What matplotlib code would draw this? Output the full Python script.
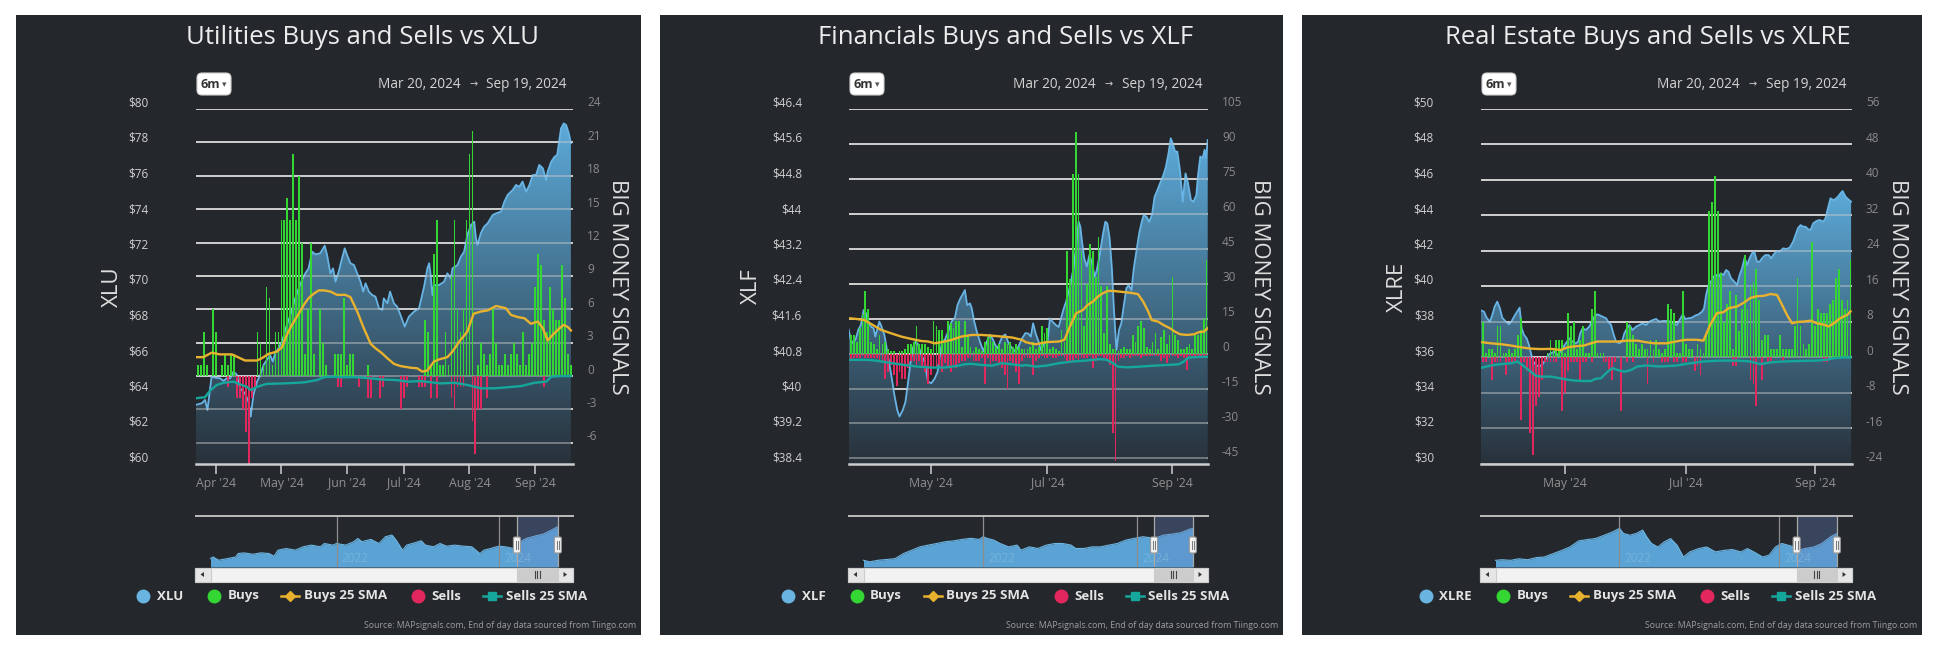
import numpy as np
import matplotlib
matplotlib.use("Agg")
import matplotlib.pyplot as plt
from matplotlib.patches import Rectangle, FancyBboxPatch, Polygon
from matplotlib.lines import Line2D
from matplotlib.colors import LinearSegmentedColormap
from matplotlib.transforms import Affine2D, blended_transform_factory, offset_copy

# ============================ DATA ============================
DATE_FROM = "Mar 20, 2024"
DATE_TO = "Sep 19, 2024"
SOURCE = "Source: MAPsignals.com, End of day data sourced from Tiingo.com"
RIGHT_TITLE = "BIG MONEY SIGNALS"
LEGEND_LABELS = ["Buys", "Buys 25 SMA", "Sells", "Sells 25 SMA"]

# trading-day number: 0 = Mar 20 2024 ... 126 = Sep 19 2024
TRADING_DAYS = list(range(127))
XT_MONTHLY = [7, 29, 51, 70, 92, 114]
XTL_MONTHLY = ["Apr '24", "May '24", "Jun '24", "Jul '24", "Aug '24", "Sep '24"]
XT_BIMONTHLY = [29, 70, 114]
XTL_BIMONTHLY = ["May '24", "Jul '24", "Sep '24"]

# ---- Utilities / XLU ----
XLU_TICKS = [80, 78, 76, 74, 72, 70, 68, 66, 64, 62, 60]
XLU_TICK_LABELS = ["$80", "$78", "$76", "$74", "$72", "$70", "$68", "$66", "$64", "$62", "$60"]
XLU_SIG_TICKS = [24, 21, 18, 15, 12, 9, 6, 3, 0, -3, -6]
XLU_SIG_LABELS = ["24", "21", "18", "15", "12", "9", "6", "3", "0", "-3", "-6"]
XLU_PRICE = [(0, 63.32), (2.3, 63.42), (3.4, 63.61), (4.2, 63.04), (5.1, 64.26), (5.6, 64.92), (6.8, 64.86),
             (8.4, 64.83), (9.6, 64.68), (10.7, 64.83), (11.8, 64.83), (12.9, 65.20), (14.0, 65.05), (15.2, 64.26),
             (16.8, 63.98), (18.0, 63.51), (18.7, 62.67), (19.6, 63.89), (20.8, 64.64), (21.9, 65.01), (23.0, 65.58),
             (24.1, 65.86), (25.2, 66.14), (26.1, 65.77), (26.9, 66.24), (28.0, 66.52), (29.2, 66.89), (30.8, 67.83),
             (32.0, 68.39), (33.6, 69.33), (34.8, 69.90), (35.9, 70.37), (37.0, 70.74), (38.1, 71.02), (39.3, 71.96),
             (40.4, 71.81), (42.0, 71.87), (43.5, 72.30), (44.3, 71.77), (45.4, 70.74), (46.3, 71.02), (47.1, 70.27),
             (48.2, 70.84), (49.3, 71.59), (50.2, 72.15), (51.0, 71.77), (52.1, 71.31), (53.3, 71.21), (54.4, 70.74),
             (55.5, 70.27), (56.4, 69.71), (57.2, 70.18), (58.3, 69.71), (59.4, 69.52), (60.5, 69.43), (61.7, 68.77),
             (62.8, 68.68), (63.3, 69.33), (64.5, 69.05), (65.4, 69.71), (66.7, 69.05), (67.8, 68.86), (68.9, 68.39),
             (70.3, 67.74), (71.7, 68.30), (73.4, 68.58), (75.1, 68.77), (76.8, 69.99), (77.9, 71.02), (78.5, 71.31),
             (79.0, 70.65), (79.6, 69.52), (80.1, 70.08), (81.8, 70.08), (83.5, 70.27), (84.6, 70.74), (85.8, 70.46),
             (86.3, 71.02), (88.0, 71.21), (89.1, 71.68), (90.2, 71.96), (91.3, 72.90), (92.5, 73.46), (93.6, 73.65),
             (94.2, 72.71), (94.7, 72.34), (95.8, 73.00), (96.9, 73.37), (98.1, 73.56), (99.8, 74.03), (100.9, 74.12),
             (102.6, 74.22), (103.7, 74.78), (104.8, 75.16), (106.5, 75.44), (107.6, 75.72), (108.7, 75.62),
             (109.8, 75.91), (111.0, 75.34), (112.1, 75.72), (113.2, 76.28), (114.3, 76.28), (115.4, 76.85),
             (116.6, 76.66), (117.7, 76.00), (118.2, 76.47), (119.4, 77.03), (120.5, 77.31), (121.4, 77.41),
             (122.2, 78.35), (122.7, 78.91), (123.6, 79.19), (124.4, 79.10), (125.3, 78.63), (126.0, 78.07)]
XLU_BUYS = [1, 1, 1, 4, 1, 0, 6, 4, 0, 1,
            2, 1, 2, 2, 0, 0, 0, 0, 0, 0,
            0, 4, 3, 1, 8, 7, 1, 4, 4, 14,
            14, 16, 14, 20, 14, 18, 12, 2, 6, 12,
            2, 0, 6, 3, 1, 0, 0, 2, 2, 2,
            7, 1, 2, 2, 0, 0, 0, 0, 1, 0,
            0, 0, 0, 0, 0, 0, 0, 0, 0, 0,
            0, 0, 0, 0, 0, 0, 0, 5, 4, 1,
            11, 14, 1, 1, 4, 1, 9, 14, 6, 4,
            6, 14, 20, 22, 0, 1, 3, 2, 1, 2,
            6, 3, 1, 1, 2, 1, 2, 3, 2, 1,
            4, 1, 2, 3, 8, 11, 10, 5, 4, 8,
            6, 5, 5, 10, 7, 2, 1]
XLU_SELLS = [0, 0, 0, 0, 0, 0, 0, 0, 0, 0,
             0, -1, 0, 0, -2, -2, -3, -5, -8, -2,
             -1, 0, 0, 0, 0, 0, 0, 0, 0, 0,
             0, 0, 0, 0, 0, 0, 0, 0, 0, 0,
             0, 0, 0, 0, 0, 0, 0, 0, -1, -1,
             0, 0, 0, 0, 0, -1, 0, 0, -2, -2,
             0, 0, -2, -1, 0, 0, 0, 0, 0, -3,
             -2, -1, 0, 0, 0, -1, -1, -1, 0, -2,
             0, -2, 0, 0, 0, 0, -2, -3, -1, -1,
             -1, 0, 0, -4, -7, -3, -3, 0, -2, 0,
             0, 0, 0, 0, 0, 0, 0, 0, 0, 0,
             0, 0, 0, 0, 0, 0, 0, -1, 0, 0,
             0, 0, 0, 0, 0, 0, 0]
XLU_BUY_SMA = [(0, 1.7), (2.8, 1.7), (5.6, 2.1), (8.4, 1.95), (12.4, 1.95), (15.2, 1.6), (16.8, 1.4), (20.8, 1.4),
               (22.4, 1.6), (24.7, 2.0), (27.5, 2.2), (29.2, 2.6), (30.8, 3.7), (32.5, 4.6), (34.8, 5.6), (36.5, 6.4),
               (38.1, 7.0), (39.8, 7.4), (41.5, 7.7), (43.2, 7.7), (45.4, 7.6), (47.6, 7.3), (50.4, 7.3), (52.1, 7.1),
               (54.4, 5.8), (56.6, 4.3), (58.9, 2.9), (60.5, 2.5), (62.5, 2.1), (64.5, 1.6), (66.7, 1.1), (68.9, 0.9),
               (72.3, 0.75), (74.5, 0.7), (76.2, 0.4), (77.9, 0.5), (80.1, 1.3), (81.8, 1.5), (84.6, 1.7), (86.3, 2.2),
               (88.6, 3.1), (91.3, 4.0), (93.4, 5.6), (95.8, 5.8), (98.1, 5.9), (100.9, 6.3), (102.6, 6.2),
               (104.2, 6.1), (105.9, 5.5), (108.2, 5.3), (110.4, 5.2), (112.6, 4.7), (114.9, 4.9), (116.6, 4.3),
               (118.2, 3.2), (119.9, 3.7), (122.2, 4.3), (123.6, 4.6), (125.0, 4.4), (126.0, 4.1)]
XLU_SELL_SMA = [(0, -2.0), (3.4, -1.9), (5.1, -1.3), (7.3, -0.8), (9.6, -0.6), (12.9, -0.5), (15.2, -0.75),
                (17.4, -0.96), (18.7, -1.26), (20.8, -0.96), (24.1, -0.7), (29.7, -0.66), (36.4, -0.57),
                (40.9, -0.36), (43.2, -0.1), (45.4, -0.05), (48.8, -0.1), (54.4, -0.1), (58.9, -0.2), (62.2, -0.3),
                (67.8, -0.36), (71.2, -0.5), (75.7, -0.45), (82.4, -0.66), (86.9, -0.6), (91.4, -0.8), (95.8, -1.1),
                (100.3, -1.1), (104.8, -1.0), (109.3, -0.9), (113.8, -0.6), (117.7, -0.5), (119.4, -0.06),
                (122.7, 0.0), (126.0, 0.0)]
XLU_NAV = [(2020.45, 50.7), (2020.48, 52.1), (2020.55, 49.3), (2020.66, 50.7), (2020.76, 52.1), (2020.79, 55.0),
           (2020.86, 55.6), (2020.97, 54.4), (2021.07, 55.6), (2021.17, 55.0), (2021.23, 52.7), (2021.28, 57.9),
           (2021.38, 59.3), (2021.49, 57.9), (2021.59, 60.8), (2021.69, 62.2), (2021.80, 60.8), (2021.85, 63.6),
           (2021.95, 62.2), (2022.00, 63.6), (2022.11, 62.2), (2022.21, 65.1), (2022.26, 67.9), (2022.31, 65.1),
           (2022.42, 67.1), (2022.52, 63.6), (2022.60, 69.4), (2022.68, 70.8), (2022.73, 66.5), (2022.81, 57.9),
           (2022.86, 62.2), (2022.93, 63.6), (2023.04, 65.9), (2023.09, 62.2), (2023.19, 60.8), (2023.27, 63.6),
           (2023.35, 61.3), (2023.45, 62.2), (2023.56, 61.3), (2023.66, 60.8), (2023.76, 55.0), (2023.81, 57.9),
           (2023.89, 59.3), (2023.99, 61.3), (2024.07, 60.8), (2024.18, 59.3), (2024.22, 63.6), (2024.33, 67.9),
           (2024.44, 70.0), (2024.54, 71.7), (2024.64, 75.1), (2024.72, 78.0)]

# ---- Financials / XLF ----
XLF_TICKS = [46.4, 45.6, 44.8, 44.0, 43.2, 42.4, 41.6, 40.8, 40.0, 39.2, 38.4]
XLF_TICK_LABELS = ["$46.4", "$45.6", "$44.8", "$44", "$43.2", "$42.4", "$41.6", "$40.8", "$40", "$39.2", "$38.4"]
XLF_SIG_TICKS = [105, 90, 75, 60, 45, 30, 15, 0, -15, -30, -45]
XLF_SIG_LABELS = ["105", "90", "75", "60", "45", "30", "15", "0", "-15", "-30", "-45"]
XLF_PRICE = [(0, 41.46), (0.9, 41.19), (1.8, 41.12), (2.7, 41.23), (3.5, 41.42), (4.4, 41.53), (5.4, 41.87),
             (6.2, 41.80), (6.8, 41.65), (8.0, 41.49), (8.9, 41.46), (9.5, 41.27), (10.3, 41.46), (10.9, 41.61),
             (11.5, 41.53), (12.7, 41.31), (13.9, 40.86), (15.1, 40.41), (16.2, 39.96), (17.2, 39.62), (18.0, 39.47),
             (19.2, 39.62), (20.1, 39.80), (20.9, 40.18), (21.9, 40.70), (22.7, 41.01), (23.6, 41.16), (24.5, 41.10),
             (25.7, 40.86), (26.9, 40.70), (28.0, 40.26), (29.2, 40.22), (30.4, 40.33), (31.4, 40.48), (32.2, 40.86),
             (33.0, 41.16), (33.9, 41.19), (35.1, 41.38), (36.3, 41.61), (37.5, 41.70), (38.4, 41.98), (39.3, 42.12),
             (40.1, 42.21), (41.0, 42.32), (41.8, 41.98), (42.8, 42.02), (43.4, 41.91), (44.3, 41.61), (45.2, 41.38),
             (46.3, 41.16), (47.5, 40.94), (48.7, 41.16), (49.9, 41.31), (50.7, 41.23), (51.7, 41.08), (52.6, 41.01),
             (53.4, 41.16), (54.2, 41.27), (55.2, 41.32), (56.4, 41.12), (57.6, 41.01), (58.7, 40.94), (59.9, 41.05),
             (61.1, 41.23), (62.3, 41.35), (63.3, 41.34), (64.2, 41.27), (65.0, 41.57), (65.9, 41.34), (66.9, 41.16),
             (67.7, 40.97), (68.9, 41.12), (70.1, 41.16), (70.9, 41.68), (71.8, 41.61), (73.0, 41.53), (74.0, 41.49),
             (74.8, 41.68), (75.6, 41.87), (76.6, 42.06), (77.5, 42.28), (78.3, 42.51), (79.2, 42.81), (80.1, 43.30),
             (81.0, 43.86), (81.6, 43.75), (82.2, 43.41), (83.0, 43.03), (83.9, 42.85), (84.8, 43.11), (85.8, 42.92),
             (86.6, 42.62), (87.4, 42.77), (88.4, 43.11), (89.5, 43.56), (90.4, 43.86), (91.1, 43.82), (91.9, 43.49),
             (92.7, 42.81), (93.4, 41.91), (94.3, 40.97), (95.2, 41.42), (96.0, 41.57), (96.9, 41.98), (97.8, 42.36),
             (98.6, 42.43), (99.6, 42.32), (100.4, 42.81), (101.3, 43.18), (102.3, 43.60), (103.2, 43.86),
             (103.9, 44.01), (104.9, 43.97), (105.8, 43.86), (106.8, 44.01), (107.7, 44.42), (108.7, 44.57),
             (109.6, 44.72), (110.8, 44.91), (111.7, 45.10), (112.6, 45.40), (113.4, 45.74), (114.1, 45.63),
             (114.9, 45.44), (115.7, 45.44), (116.7, 44.99), (117.6, 44.31), (118.6, 44.95), (119.5, 44.72),
             (120.5, 44.35), (121.4, 44.31), (122.4, 44.46), (123.0, 44.91), (123.8, 45.33), (124.6, 45.29),
             (125.3, 45.48), (125.8, 45.29), (126.4, 45.70)]
XLF_BUYS = [28, 8, 8, 5, 11, 17, 27, 19, 5, 4,
            2, 8, 4, 5, 2, 1, 1, 0, 1, 1,
            2, 4, 4, 5, 12, 4, 4, 4, 3, 2,
            14, 12, 10, 10, 5, 14, 13, 11, 14, 14,
            3, 14, 8, 3, 1, 3, 2, 1, 5, 7,
            8, 5, 3, 4, 2, 5, 4, 5, 3, 4,
            3, 2, 2, 2, 3, 5, 2, 3, 12, 9,
            11, 2, 3, 2, 1, 10, 5, 44, 32, 77,
            95, 77, 44, 12, 30, 47, 44, 33, 50, 29,
            9, 29, 4, 2, 2, 1, 2, 3, 2, 2,
            8, 5, 12, 14, 11, 3, 2, 5, 9, 2,
            7, 10, 4, 8, 33, 8, 6, 2, 2, 3,
            4, 2, 8, 8, 10, 15, 40]
XLF_SELLS = [-2, -3, -2, -2, -2, -1, -2, -2, -2, -2,
             -2, -3, -3, -11, -8, -5, -9, -14, -8, -11,
             -11, -6, -3, -3, -5, -3, -6, -8, -13, -9,
             -6, -6, -5, -8, -4, -6, -8, -5, -6, -4,
             -3, -3, -2, -2, -3, -3, -3, -2, -13, -2,
             -5, -3, -3, -4, -6, -9, -15, -3, -4, -8,
             -13, -3, -2, -2, -2, -9, -3, -2, -1, -2,
             -2, -1, -2, -2, -1, -1, -2, -3, -3, -3,
             -2, -3, -2, -2, -2, -1, -6, -3, -1, -1,
             -2, -3, -5, -34, -46, -3, -2, -2, -1, -2,
             -1, -1, -1, -2, -1, -1, -1, -1, -1, -1,
             -3, -2, -4, -2, -1, -1, -2, -1, -2, -7,
             -1, -1, -1, -1, -1, -1, -1]
XLF_BUY_SMA = [(0, 15.2), (2.7, 14.9), (5.6, 14.4), (8.6, 12.3), (11.5, 10.2), (15.1, 8.7), (18.6, 7.3),
               (22.1, 6.3), (25.7, 5.4), (28.0, 5.2), (30.4, 4.4), (32.8, 4.9), (36.3, 5.9), (39.8, 7.3),
               (43.4, 8.0), (46.9, 8.0), (50.5, 7.7), (54.0, 7.3), (57.6, 6.9), (61.1, 5.9), (62.4, 4.9),
               (64.2, 4.4), (65.9, 4.0), (69.5, 4.9), (74.2, 5.2), (76.0, 5.9), (77.7, 10.9), (80.1, 17.3),
               (82.5, 18.7), (84.2, 20.9), (86.0, 22.3), (87.8, 24.5), (89.5, 25.9), (91.3, 26.9), (93.1, 26.9),
               (95.4, 26.6), (97.8, 26.3), (100.2, 25.9), (101.9, 25.5), (103.7, 22.3), (105.5, 18.0),
               (106.7, 14.4), (109.0, 13.7), (110.8, 12.3), (113.1, 10.9), (114.9, 9.4), (116.7, 8.3),
               (119.0, 8.0), (121.6, 8.3), (123.3, 9.2), (125.0, 9.4), (126.4, 10.9)]
XLF_SELL_SMA = [(0, -2.7), (3.3, -2.7), (6.8, -2.7), (10.3, -3.1), (15.1, -4.1), (19.8, -4.9), (24.5, -5.6),
                (29.2, -6.0), (33.9, -6.0), (38.7, -5.2), (41.0, -4.6), (43.4, -4.4), (46.9, -4.9), (50.5, -5.2),
                (54.0, -4.1), (57.6, -4.6), (61.1, -5.2), (62.4, -4.9), (65.9, -5.6), (69.5, -5.2), (74.2, -4.1),
                (78.9, -3.4), (83.6, -3.0), (88.4, -2.4), (90.7, -2.6), (93.1, -4.1), (94.8, -5.6), (97.8, -5.9),
                (102.5, -5.6), (107.2, -5.2), (111.9, -4.9), (116.2, -4.6), (118.0, -3.4), (119.7, -1.7),
                (123.3, -1.4), (126.4, -1.4)]
XLF_NAV = [(2020.45, 24.0), (2020.53, 22.9), (2020.64, 24.0), (2020.75, 24.5), (2020.86, 25.1), (2020.97, 28.6),
           (2021.08, 30.9), (2021.18, 33.1), (2021.29, 34.3), (2021.40, 35.4), (2021.51, 36.6), (2021.62, 37.2),
           (2021.73, 38.2), (2021.84, 38.9), (2021.95, 38.2), (2022.00, 40.0), (2022.05, 38.9), (2022.14, 37.7),
           (2022.22, 35.4), (2022.33, 33.1), (2022.44, 34.3), (2022.49, 30.9), (2022.60, 33.1), (2022.71, 32.0),
           (2022.82, 34.3), (2022.93, 35.4), (2023.03, 35.4), (2023.14, 34.3), (2023.20, 32.0), (2023.31, 32.0),
           (2023.41, 33.1), (2023.52, 33.1), (2023.63, 34.3), (2023.74, 35.4), (2023.85, 37.7), (2023.96, 38.9),
           (2024.07, 40.0), (2024.22, 38.9), (2024.34, 41.1), (2024.45, 41.8), (2024.56, 42.7), (2024.67, 45.0),
           (2024.72, 45.7)]

# ---- Real Estate / XLRE ----
XLRE_TICKS = [50, 48, 46, 44, 42, 40, 38, 36, 34, 32, 30]
XLRE_TICK_LABELS = ["$50", "$48", "$46", "$44", "$42", "$40", "$38", "$36", "$34", "$32", "$30"]
XLRE_SIG_TICKS = [56, 48, 40, 32, 24, 16, 8, 0, -8, -16, -24]
XLRE_SIG_LABELS = ["56", "48", "40", "32", "24", "16", "8", "0", "-8", "-16", "-24"]
XLRE_PRICE = [(0, 38.68), (1.4, 38.58), (2.3, 38.24), (3.4, 38.02), (4.2, 38.39), (5.0, 38.86), (5.9, 39.15),
              (6.8, 38.77), (7.6, 38.24), (8.8, 38.02), (9.9, 37.87), (10.7, 38.02), (11.6, 38.30), (12.8, 38.62),
              (13.5, 38.81), (14.2, 37.64), (15.0, 37.27), (15.9, 37.08), (16.7, 36.70), (17.5, 36.14),
              (18.2, 35.77), (19.0, 35.58), (20.1, 35.49), (21.3, 35.62), (22.2, 35.86), (23.2, 36.14),
              (24.1, 36.24), (25.3, 36.33), (26.4, 36.14), (27.3, 36.33), (28.1, 36.52), (29.2, 36.80),
              (30.4, 37.08), (31.5, 36.89), (32.6, 36.80), (33.4, 36.89), (34.1, 37.36), (34.9, 37.64),
              (36.0, 37.55), (37.2, 37.74), (38.0, 38.02), (38.9, 38.30), (39.8, 38.43), (40.6, 38.39),
              (41.7, 38.30), (42.9, 38.21), (43.6, 38.02), (44.6, 37.83), (45.5, 37.27), (46.3, 36.89),
              (47.4, 36.80), (48.3, 36.89), (49.1, 37.36), (50.0, 37.64), (50.8, 37.83), (51.9, 37.55),
              (53.1, 37.74), (54.2, 37.83), (55.3, 37.92), (56.5, 37.83), (57.6, 38.02), (58.8, 38.11),
              (59.9, 38.17), (61.0, 38.02), (62.2, 38.06), (63.5, 38.06), (64.7, 38.02), (65.8, 37.92),
              (66.9, 37.83), (68.1, 38.17), (69.0, 38.43), (69.8, 38.17), (70.9, 38.21), (72.0, 38.24),
              (73.2, 38.36), (74.3, 38.43), (75.5, 38.58), (76.2, 38.77), (76.9, 39.52), (77.7, 40.08),
              (78.5, 40.27), (79.4, 40.55), (80.3, 40.65), (81.1, 40.55), (81.9, 40.74), (82.8, 40.65),
              (83.7, 40.93), (84.5, 40.83), (85.4, 40.46), (86.5, 40.27), (87.4, 40.08), (88.3, 40.65),
              (89.1, 41.02), (90.0, 41.62), (90.8, 41.21), (91.7, 41.59), (92.5, 41.87), (93.3, 41.96),
              (94.2, 41.40), (95.1, 41.40), (95.9, 41.59), (97.0, 41.77), (98.2, 41.77), (99.0, 41.59),
              (99.9, 41.81), (101.0, 42.00), (101.9, 41.96), (103.1, 42.15), (104.2, 42.11), (105.3, 42.19),
              (106.5, 42.53), (107.3, 42.90), (108.1, 43.28), (109.0, 43.46), (109.9, 43.37), (110.7, 43.37),
              (111.5, 43.24), (112.4, 43.18), (113.3, 43.56), (114.4, 43.69), (115.5, 43.75), (116.7, 43.65),
              (117.5, 43.84), (118.3, 44.40), (119.2, 44.97), (120.1, 44.87), (120.9, 44.93), (121.7, 45.06),
              (122.6, 45.25), (123.3, 45.38), (124.3, 45.06), (125.1, 44.93), (126.2, 44.78)]
XLRE_BUYS = [0, 8, 1, 2, 2, 1, 7, 7, 1, 1,
             2, 1, 2, 5, 9, 0, 0, 0, 0, 0,
             0, 0, 0, 1, 4, 2, 4, 4, 4, 1,
             10, 7, 8, 2, 4, 7, 1, 1, 11, 15,
             1, 1, 1, 0, 0, 0, 0, 0, 0, 0,
             8, 7, 5, 3, 2, 3, 2, 2, 4, 2,
             4, 2, 1, 2, 12, 11, 10, 1, 1, 15,
             3, 2, 2, 0, 3, 2, 1, 5, 33, 35,
             41, 33, 19, 8, 12, 15, 2, 14, 6, 11,
             23, 11, 16, 17, 20, 13, 4, 5, 5, 2,
             2, 2, 5, 2, 2, 2, 2, 7, 18, 7,
             3, 2, 3, 26, 7, 11, 10, 10, 10, 12,
             13, 18, 20, 13, 11, 13, 22]
XLRE_SELLS = [0, -1, -1, 0, -5, -1, -1, -1, 0, -4,
              -1, -1, -1, 0, -14, -1, -3, -17, -22, -11,
              -9, -5, -1, -1, -1, -1, -1, 0, -12, -8,
              -3, -1, -1, -1, -5, -1, -1, 0, -1, 0,
              0, 0, -1, -1, -3, -5, -1, 0, -12, 0,
              -1, 0, -1, 0, 0, 0, 0, -6, 0, -1,
              0, 0, -1, -1, -1, 0, -1, -1, 0, -1,
              -1, 0, 0, -3, -2, -4, 0, 0, 0, 0,
              0, 0, 0, 0, 0, 0, -2, -2, 0, 0,
              0, 0, -5, -6, -11, 0, -5, 0, -1, -1,
              0, 0, 0, -1, 0, 0, 0, 0, 0, 0,
              0, 0, 0, 0, 0, 0, 0, -1, -1, 0,
              0, 0, 0, 0, 0, 0, 0]
XLRE_BUY_SMA = [(0, 3.5), (3.7, 3.2), (7.1, 3.0), (10.5, 2.7), (13.9, 2.3), (17.3, 2.0), (20.7, 1.9),
                (24.1, 1.95), (27.5, 1.7), (29.8, 2.3), (32.1, 2.5), (35.5, 2.7), (37.7, 3.2), (40.0, 3.6),
                (43.4, 3.6), (46.8, 3.6), (50.2, 3.8), (53.6, 3.8), (55.9, 3.5), (59.3, 3.2), (61.6, 3.2),
                (63.5, 3.2), (68.1, 3.8), (70.3, 4.0), (73.7, 4.0), (76.0, 3.8), (78.3, 7.4), (80.6, 10.0),
                (82.8, 10.2), (84.5, 11.1), (87.4, 11.5), (89.6, 12.3), (91.9, 13.4), (94.2, 13.8), (96.5, 13.9),
                (98.7, 14.3), (101.0, 14.1), (102.7, 11.9), (104.4, 9.6), (106.1, 7.7), (107.8, 8.0),
                (110.1, 8.1), (112.4, 8.3), (114.6, 7.7), (116.9, 7.4), (118.6, 7.0), (120.3, 7.7),
                (122.6, 8.9), (124.9, 9.6), (126.0, 10.4)]
XLRE_SELL_SMA = [(0, -2.4), (3.7, -1.8), (7.1, -1.5), (10.5, -1.3), (12.8, -0.9), (15.0, -2.0), (17.3, -3.2),
                 (19.0, -4.1), (20.7, -4.3), (24.1, -4.3), (27.5, -4.7), (29.8, -5.0), (32.1, -5.2),
                 (35.5, -5.3), (37.7, -5.3), (39.4, -4.8), (41.1, -4.7), (43.4, -3.2), (45.1, -2.4),
                 (46.8, -2.8), (49.1, -3.2), (51.4, -2.8), (53.6, -2.0), (57.0, -1.8), (60.5, -2.0),
                 (62.4, -2.0), (66.9, -1.8), (71.5, -1.3), (76.0, -0.9), (81.7, -0.7), (87.4, -0.7),
                 (91.9, -0.9), (95.3, -1.5), (98.7, -1.1), (103.3, -0.9), (110.1, -0.75), (114.6, -0.7),
                 (118.0, -0.5), (120.3, -0.15), (123.7, 0.0), (126.0, 0.0)]
XLRE_NAV = [(2020.45, 31.3), (2020.53, 31.6), (2020.64, 31.3), (2020.74, 32.1), (2020.85, 31.6), (2020.96, 32.7),
            (2021.06, 33.0), (2021.17, 34.7), (2021.28, 36.4), (2021.38, 38.1), (2021.49, 41.2), (2021.60, 41.9),
            (2021.70, 42.4), (2021.81, 44.1), (2021.92, 45.9), (2022.00, 47.6), (2022.05, 45.0), (2022.13, 44.1),
            (2022.21, 45.0), (2022.29, 46.7), (2022.34, 43.3), (2022.40, 39.9), (2022.48, 38.1), (2022.56, 40.7),
            (2022.64, 42.4), (2022.72, 39.0), (2022.80, 33.0), (2022.88, 35.6), (2022.99, 37.3), (2023.09, 38.1),
            (2023.20, 35.6), (2023.31, 36.4), (2023.41, 36.8), (2023.52, 35.6), (2023.60, 37.3), (2023.68, 35.6),
            (2023.79, 33.0), (2023.87, 33.9), (2023.95, 38.1), (2024.03, 39.9), (2024.11, 39.0), (2024.19, 38.1),
            (2024.23, 36.4), (2024.32, 37.3), (2024.43, 38.1), (2024.53, 39.9), (2024.64, 43.3), (2024.72, 45.0)]

NAV_SPAN = (2020.45, 2024.72)
NAV_YEARS = [2022, 2024]
NAV_YEAR_LABELS = ["2022", "2024"]
SEL_RANGE = (2024.215, 2024.718)

# ============================ STYLE ============================
W, H = 1956, 657
BG = '#24282c'
GRID = '#cdcdcd'
GREEN = '#33d633'
RED = '#e2275f'
ORANGE = '#e8b22f'
TEAL = '#16a79c'
PRICE_LINE = '#68b4e4'
NAV_FILL = '#5aa3d4'
GRAD = LinearSegmentedColormap.from_list('g', ['#28313a', '#5caad9'])

plt.rcParams['font.family'] = ['Open Sans', 'DejaVu Sans']
fig = plt.figure(figsize=(W / 100, H / 100), dpi=100)
fig.patch.set_facecolor('white')
PX = Affine2D().scale(1, -1).translate(0, H)   # pixel coords, y downward


def ftext(x, y, s, **kw):
    kw.setdefault('color', '#e0e0e0')
    return fig.text(x, y, s, transform=PX, **kw)


def draw_panel(c):
    L, R = c['panel_x']
    fig.add_artist(Rectangle((L, 15), R - L, 620, transform=PX, facecolor=BG, edgecolor='none', zorder=-5))
    pl, pr = c['plot_x']
    pt, pb = 109, 464

    ax = fig.add_axes([pl / W, 1 - pb / H, (pr - pl) / W, (pb - pt) / H])
    ax.set_facecolor('none')
    axr = ax.twinx()
    for a in (ax, axr):
        for s in a.spines.values():
            s.set_visible(False)
        a.set_yticks([])
    axr.set_ylim(*c['sig_lim'])

    # price area with gradient
    days = [d for d, v in c['price']]
    vals = [v for d, v in c['price']]
    y0 = c['price_lim'][0]
    poly = ax.fill_between(days, vals, y0, facecolor='none', edgecolor='none', zorder=2)
    im = ax.imshow(np.linspace(0, 1, 256).reshape(-1, 1), extent=[days[0], days[-1], y0, max(vals)],
                   origin='lower', aspect='auto', cmap=GRAD, zorder=2, interpolation='bilinear')
    im.set_clip_path(poly.get_paths()[0], ax.transData)
    ax.plot(days, vals, color=PRICE_LINE, lw=1.3, zorder=3)

    # gridlines (right axis)
    gtr = blended_transform_factory(ax.transAxes, axr.transData)
    for v in c['sig_ticks']:
        ax.add_line(Line2D([0, 1], [v, v], transform=gtr, color=GRID, lw=1.4, zorder=1))
        axr.axhline(v, color=GRID, lw=1.4, alpha=0.45, zorder=1)
    axr.add_line(Line2D([0, 1], [0, 0], transform=axr.transAxes, color=GRID, lw=1.8, zorder=6, clip_on=False))

    # signals
    axr.bar(TRADING_DAYS, c['buys'], width=0.62, color=GREEN, lw=0, zorder=3, antialiased=False)
    axr.plot([d for d, v in c['buy_sma']], [v for d, v in c['buy_sma']], color=ORANGE, lw=1.7, zorder=4)
    axr.bar(TRADING_DAYS, c['sells'], width=0.62, color=RED, lw=0, zorder=3, antialiased=False)
    axr.plot([d for d, v in c['sell_sma']], [v for d, v in c['sell_sma']], color=TEAL, lw=1.7, zorder=4)

    ax.set_xlim(*c['xlim'])
    ax.set_ylim(*c['price_lim'])
    axr.set_ylim(*c['sig_lim'])

    ax.set_xticks(c['xt'])
    ax.set_xticklabels(c['xtl'])
    ax.tick_params(axis='x', direction='out', length=7, width=1.1, color=GRID, labelcolor='#8f8f8f',
                   labelsize=8.8, pad=2)

    ltr = offset_copy(blended_transform_factory(ax.transAxes, ax.transData), fig=fig, x=-47, y=6, units='dots')
    for v, s in zip(c['price_ticks'], c['price_labels']):
        ax.text(0, v, s, transform=ltr, ha='right', va='center', fontsize=8.5, color='#cfcfcf')
    rtr = offset_copy(blended_transform_factory(axr.transAxes, axr.transData), fig=fig, x=14, y=6, units='dots')
    for v, s in zip(c['sig_ticks'], c['sig_labels']):
        axr.text(1, v, s, transform=rtr, ha='left', va='center', fontsize=8.5, color='#8a8a8a')

    # titles
    cx = L + 346
    ftext(cx, 38, c['title'], ha='center', va='center', fontsize=18.5, color='#ececec')
    ftext(pl - c['lt_off'], 286.5, c['ticker'], rotation=90, ha='center', va='center', fontsize=16,
          color='#dedede')
    ftext(pr + c['rt_off'], 286.5, RIGHT_TITLE, rotation=270, ha='center', va='center', fontsize=16,
          color='#dedede')

    # range selector & dates
    fig.add_artist(FancyBboxPatch((pl + 1, 73), 34, 22, boxstyle='round,pad=0,rounding_size=5', transform=PX,
                                  facecolor='white', edgecolor='#d0d0d0', lw=0.8))
    ftext(pl + 14, 84.5, '6m', ha='center', va='center', fontsize=9, fontweight='bold', color='#333333')
    ftext(pl + 28, 85, '\u25be', ha='center', va='center', fontsize=6.5, color='#555555',
          family=['DejaVu Sans'])
    ftext(pr - 6, 84, DATE_TO, ha='right', va='center', fontsize=9.8, color='#d4d4d4')
    ftext(pr - 99, 84, '\u2192', ha='center', va='center', fontsize=7, color='#cfcfcf', family=['DejaVu Sans'])
    ftext(pr - 112, 84, DATE_FROM, ha='right', va='center', fontsize=9.8, color='#d4d4d4')

    # ---------------- navigator ----------------
    nt, nb = 516, 567
    nl, nr = pl + 14.5, pr - 15
    axn = fig.add_axes([pl / W, 1 - nb / H, (pr - pl) / W, (nb - nt) / H])
    axn.set_axis_off()
    sc = (NAV_SPAN[1] - NAV_SPAN[0]) / (nr - nl)
    yrs = [a for a, b in c['nav']]
    nv = [b for a, b in c['nav']]
    axn.fill_between(yrs, nv, c['nav_lim'][0], color=NAV_FILL, lw=0, zorder=2)
    axn.plot(yrs, nv, color='#6fb6e3', lw=0.8, zorder=3)
    axn.axvspan(*SEL_RANGE, color=(0.40, 0.52, 0.76, 0.32), lw=0, zorder=4)
    ytr = offset_copy(blended_transform_factory(axn.transData, axn.transAxes), fig=fig, x=5, y=0, units='dots')
    for yv, lab in zip(NAV_YEARS, NAV_YEAR_LABELS):
        axn.axvline(yv, color='#8c8c8c', lw=0.9, zorder=3)
        axn.text(yv, 0.16, lab, transform=ytr, ha='left', va='center', fontsize=8.5, color='#8fc0e4',
                 alpha=0.55, zorder=5)
    for sv in SEL_RANGE:
        axn.axvline(sv, color='#a8a8a8', lw=0.9, zorder=5)
    axn.set_xlim(NAV_SPAN[0] - (nl - pl) * sc, NAV_SPAN[1] + (pr - nr) * sc)
    axn.set_ylim(*c['nav_lim'])
    fig.add_artist(Line2D([pl, pr], [nt, nt], transform=PX, color='#bdbdbd', lw=1.4))

    hx = [axn.transData.transform((sv, 0))[0] for sv in SEL_RANGE]
    # scrollbar
    sy0, sy1 = 567.5, 581.5
    fig.add_artist(Rectangle((pl - 1.5, sy0), pr - pl + 1.5, sy1 - sy0, transform=PX, facecolor='#f2f2f2',
                             edgecolor='#d5d5d5', lw=0.8))
    fig.add_artist(Rectangle((hx[0], sy0), hx[1] - hx[0], sy1 - sy0, transform=PX, facecolor='#cccccc',
                             edgecolor='#cccccc', lw=0.8))
    mx = (hx[0] + hx[1]) / 2
    for dx in (-2.5, 0, 2.5):
        fig.add_artist(Line2D([mx + dx, mx + dx], [571, 578], transform=PX, color='#444444', lw=0.8))
    fig.add_artist(Rectangle((pl - 1.5, sy0), 16, sy1 - sy0, transform=PX, facecolor='#e6e6e6',
                             edgecolor='#cccccc', lw=0.8))
    fig.add_artist(Rectangle((pr - 15, sy0), 15.2, sy1 - sy0, transform=PX, facecolor='#e6e6e6',
                             edgecolor='#cccccc', lw=0.8))
    fig.add_artist(Polygon([[pl + 4.5, 574.5], [pl + 8, 572], [pl + 8, 577]], closed=True, transform=PX,
                           facecolor='#333333', edgecolor='none'))
    fig.add_artist(Polygon([[pr - 6, 574.5], [pr - 9.5, 572], [pr - 9.5, 577]], closed=True, transform=PX,
                           facecolor='#333333', edgecolor='none'))
    # handles
    for x in hx:
        fig.add_artist(FancyBboxPatch((x - 3.5, 537), 7, 16, boxstyle='round,pad=0,rounding_size=1.5',
                                      transform=PX, facecolor='#f2f2f2', edgecolor='#999999', lw=0.8, zorder=6))
        for dx in (-1.2, 1.2):
            fig.add_artist(Line2D([x + dx, x + dx], [541, 549], transform=PX, color='#777777', lw=0.7, zorder=7))

    # ---------------- legend ----------------
    renderer = fig.canvas.get_renderer()
    labels = [c['ticker']] + LEGEND_LABELS
    kinds = ['o', 'o', 'D', 'o', 's']
    cols = ['#6ab4e2', GREEN, ORANGE, RED, TEAL]
    ly = 596
    widths = []
    for lab in labels:
        t = ftext(0, ly, lab, fontsize=9.5, fontweight='bold')
        widths.append(t.get_window_extent(renderer).width)
        t.remove()
    gap_t, gap_n = 13.5, 31
    total = 6 + sum(gap_t + w for w in widths) + gap_n * (len(widths) - 1)
    x = cx - total / 2 + 6
    for lab, kd, col, w in zip(labels, kinds, cols, widths):
        if kd == 'o':
            fig.add_artist(Line2D([x], [ly], transform=PX, marker='o', ms=9, color=col, lw=0))
        else:
            fig.add_artist(Line2D([x - 9, x + 9], [ly, ly], transform=PX, color=col, lw=1.8))
            fig.add_artist(Line2D([x], [ly], transform=PX, marker=kd, ms=5.5, color=col, lw=0))
        ftext(x + gap_t, ly, lab, ha='left', va='center', fontsize=9.5, fontweight='bold', color='#e4e4e4')
        x += gap_t + w + gap_n

    ftext(R - 5, 626, SOURCE, ha='right', va='center', fontsize=6.3, color='#9c9c9c')


PANELS = [
    dict(panel_x=(16, 641), plot_x=(196, 573), xlim=(0.37, 126.7), title="Utilities Buys and Sells vs XLU",
         ticker="XLU", price=XLU_PRICE, price_lim=(60, 80), price_ticks=XLU_TICKS, price_labels=XLU_TICK_LABELS,
         sig_lim=(-7.9, 24), sig_ticks=XLU_SIG_TICKS, sig_labels=XLU_SIG_LABELS, buys=XLU_BUYS, sells=XLU_SELLS,
         buy_sma=XLU_BUY_SMA, sell_sma=XLU_SELL_SMA, xt=XT_MONTHLY, xtl=XTL_MONTHLY, nav=XLU_NAV,
         nav_lim=(43.5, 87.1), lt_off=84, rt_off=44),
    dict(panel_x=(660, 1283), plot_x=(849, 1208), xlim=(0.25, 126.5), title="Financials Buys and Sells vs XLF",
         ticker="XLF", price=XLF_PRICE, price_lim=(38.4, 46.4), price_ticks=XLF_TICKS, price_labels=XLF_TICK_LABELS,
         sig_lim=(-47.4, 105), sig_ticks=XLF_SIG_TICKS, sig_labels=XLF_SIG_LABELS, buys=XLF_BUYS, sells=XLF_SELLS,
         buy_sma=XLF_BUY_SMA, sell_sma=XLF_SELL_SMA, xt=XT_BIMONTHLY, xtl=XTL_BIMONTHLY, nav=XLF_NAV,
         nav_lim=(19.4, 54.1), lt_off=98, rt_off=52),
    dict(panel_x=(1302, 1922), plot_x=(1481, 1852), xlim=(0.37, 126.5), title="Real Estate Buys and Sells vs XLRE",
         ticker="XLRE", price=XLRE_PRICE, price_lim=(30, 50), price_ticks=XLRE_TICKS, price_labels=XLRE_TICK_LABELS,
         sig_lim=(-24, 56), sig_ticks=XLRE_SIG_TICKS, sig_labels=XLRE_SIG_LABELS, buys=XLRE_BUYS,
         sells=XLRE_SELLS, buy_sma=XLRE_BUY_SMA, sell_sma=XLRE_SELL_SMA, xt=XT_BIMONTHLY, xtl=XTL_BIMONTHLY,
         nav=XLRE_NAV, nav_lim=(27.9, 53.9), lt_off=84, rt_off=46),
]

for p in PANELS:
    draw_panel(p)

fig.savefig('out.png', dpi=100, facecolor='white')
